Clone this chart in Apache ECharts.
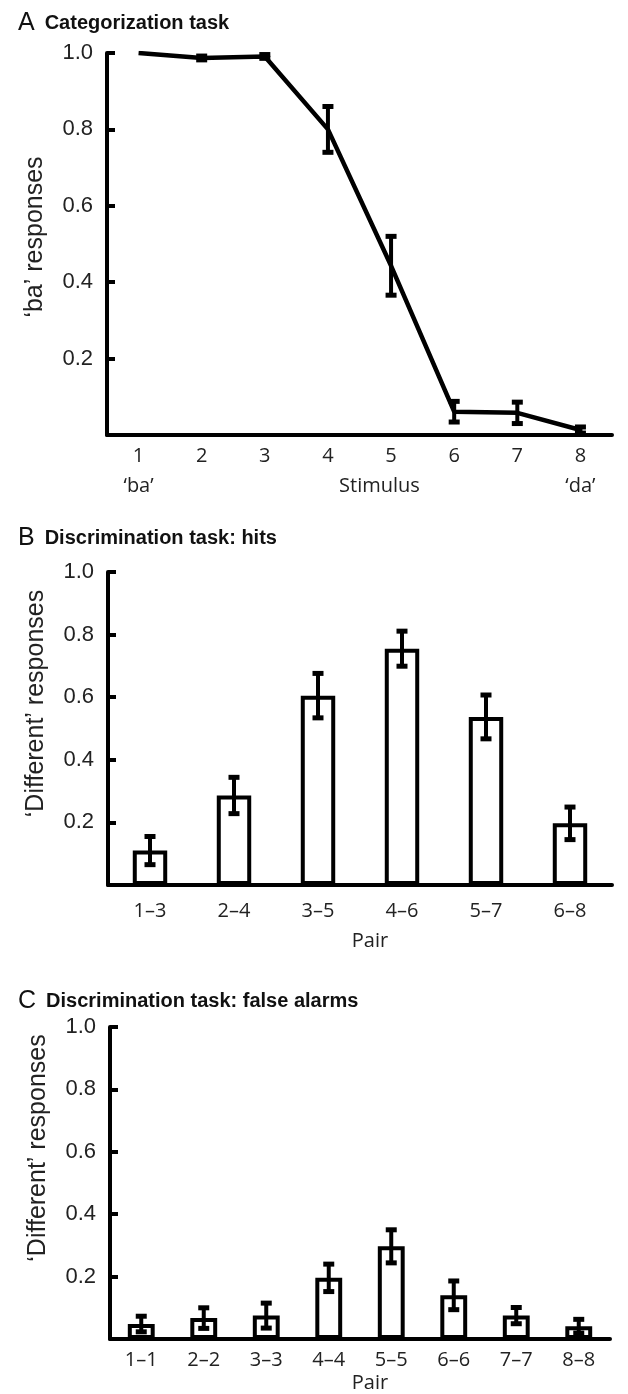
<!DOCTYPE html>
<html>
<head>
<meta charset="utf-8">
<script src="https://cdn.jsdelivr.net/npm/echarts@6/dist/echarts.min.js"></script>
<style>
  html, body { margin: 0; padding: 0; background: #fff; }
  #chart { width: 628px; height: 1394px; }
</style>
</head>
<body>
<div id="chart"></div>
<script>
// ---- Data ----
const stimuli = ['1', '2', '3', '4', '5', '6', '7', '8'];
const stimulusEndLabels = ['\u2018ba\u2019', '', '', '', '', '', '', '\u2018da\u2019'];
const baResponses = [1.0, 0.987, 0.991, 0.80, 0.443, 0.061, 0.058, 0.013];
const baErrors = [0, 0.005, 0.005, 0.06, 0.077, 0.027, 0.028, 0.008];

const hitPairs = ['1\u20133', '2\u20134', '3\u20135', '4\u20136', '5\u20137', '6\u20138'];
const hitValues = [0.11, 0.286, 0.605, 0.755, 0.537, 0.197];
const hitErrors = [0.045, 0.058, 0.071, 0.056, 0.07, 0.052];

const faPairs = ['1\u20131', '2\u20132', '3\u20133', '4\u20134', '5\u20135', '6\u20136', '7\u20137', '8\u20138'];
const faValues = [0.048, 0.067, 0.075, 0.196, 0.297, 0.140, 0.075, 0.041];
const faErrors = [0.025, 0.033, 0.040, 0.044, 0.053, 0.046, 0.026, 0.022];

// ---- Helpers ----
function errData(vals, errs) {
  return vals.map((v, i) => [i, v - errs[i], v + errs[i]]);
}
function errRenderer(capHalf) {
  return function (params, api) {
    const x = api.value(0);
    const lo = api.coord([x, api.value(1)]);
    const hi = api.coord([x, api.value(2)]);
    if (Math.abs(hi[1] - lo[1]) < 0.5) return null;
    const st = { stroke: '#000', lineWidth: 4, fill: null };
    const cs = { stroke: '#000', lineWidth: 5, fill: null };
    return {
      type: 'group',
      children: [
        { type: 'line', shape: { x1: lo[0], y1: lo[1], x2: hi[0], y2: hi[1] }, style: st },
        { type: 'line', shape: { x1: lo[0] - capHalf, y1: lo[1], x2: lo[0] + capHalf, y2: lo[1] }, style: cs },
        { type: 'line', shape: { x1: hi[0] - capHalf, y1: hi[1], x2: hi[0] + capHalf, y2: hi[1] }, style: cs }
      ]
    };
  };
}

const yFont = 'Liberation Sans, Arial, sans-serif';
const xFont = 'Open Sans, Liberation Sans, sans-serif';

function yAxis(gridIndex, name, namePad) {
  return {
    type: 'value', gridIndex: gridIndex,
    min: 0, max: 1.0, interval: 0.2,
    name: name, nameLocation: 'middle', nameGap: 59,
    nameTextStyle: { fontFamily: yFont, fontSize: 25, color: '#222', padding: [0, 0, 0, namePad] },
    axisLine: { show: true, lineStyle: { color: '#000', width: 4 } },
    axisTick: { show: true, inside: true, length: 8, lineStyle: { color: '#000', width: 4 } },
    axisLabel: {
      fontFamily: yFont, fontSize: 22, color: '#222', margin: 14,
      formatter: v => (Math.abs(v) < 1e-9 ? '' : v.toFixed(1))
    },
    splitLine: { show: false }
  };
}

const chart = echarts.init(document.getElementById('chart'), null, { renderer: 'canvas' });

const titleRich = {
  l: { fontFamily: 'Liberation Sans Narrow, Liberation Sans, sans-serif', fontSize: 25, fontWeight: 'normal', color: '#111', padding: [0, 10, 0, 0] },
  b: { fontFamily: 'Liberation Sans, Arial, sans-serif', fontSize: 20, fontWeight: 'bold', color: '#111' }
};

const option = {
  backgroundColor: '#fff',
  animation: false,
  title: [
    { text: '{l|A}{b|Categorization task}', left: 13, top: 6, textStyle: { rich: titleRich } },
    { text: '{l|B}{b|Discrimination task: hits}', left: 13, top: 521, textStyle: { rich: titleRich } },
    { text: '{l|C}{b|Discrimination task: false alarms}', left: 13, top: 984, textStyle: { rich: titleRich } }
  ],
  grid: [
    { left: 107, right: 16, top: 53, height: 382 },
    { left: 108, right: 16, top: 572, height: 313 },
    { left: 110, right: 18, top: 1027, height: 313 }
  ],
  xAxis: [
    {
      type: 'category', gridIndex: 0, data: stimuli, boundaryGap: true,
      name: 'Stimulus', nameLocation: 'middle', nameGap: 41, nameMoveOverlap: false,
      nameTextStyle: { fontFamily: xFont, fontSize: 20, color: '#222', padding: [0, 0, 0, 40] },
      axisLine: { show: true, lineStyle: { color: '#000', width: 4 } },
      axisTick: { show: false },
      axisLabel: {
        fontFamily: xFont, fontSize: 20, color: '#222', margin: 6, lineHeight: 30,
        formatter: (v, i) => stimulusEndLabels[i] ? v + '\n' + stimulusEndLabels[i] : v
      }
    },
    {
      type: 'category', gridIndex: 1, data: hitPairs, boundaryGap: true,
      name: 'Pair', nameLocation: 'middle', nameGap: 46,
      nameTextStyle: { fontFamily: xFont, fontSize: 20, color: '#222', padding: [0, 0, 0, 20] },
      axisLine: { show: true, lineStyle: { color: '#000', width: 4 } },
      axisTick: { show: false },
      axisLabel: { fontFamily: xFont, fontSize: 20, color: '#222', margin: 16 }
    },
    {
      type: 'category', gridIndex: 2, data: faPairs, boundaryGap: true,
      name: 'Pair', nameLocation: 'middle', nameGap: 34,
      nameTextStyle: { fontFamily: xFont, fontSize: 20, color: '#222', padding: [0, 0, 0, 20] },
      axisLine: { show: true, lineStyle: { color: '#000', width: 4 } },
      axisTick: { show: false },
      axisLabel: { fontFamily: xFont, fontSize: 20, color: '#222', margin: 11 }
    }
  ],
  yAxis: [
    yAxis(0, '\u2018ba\u2019 responses', 14),
    yAxis(1, '\u2018Different\u2019 responses', 50),
    yAxis(2, '\u2018Different\u2019 responses', 70)
  ],
  series: [
    {
      type: 'line', xAxisIndex: 0, yAxisIndex: 0, data: baResponses,
      symbol: 'none', lineStyle: { color: '#000', width: 4.5 }, z: 3
    },
    {
      type: 'custom', xAxisIndex: 0, yAxisIndex: 0, data: errData(baResponses, baErrors),
      renderItem: errRenderer(5.5), z: 4
    },
    {
      type: 'bar', xAxisIndex: 1, yAxisIndex: 1, data: hitValues, barWidth: '41%',
      itemStyle: { color: '#fff', borderColor: '#000', borderWidth: 4 }, z: 2
    },
    {
      type: 'custom', xAxisIndex: 1, yAxisIndex: 1, data: errData(hitValues, hitErrors),
      renderItem: errRenderer(5.5), z: 4
    },
    {
      type: 'bar', xAxisIndex: 2, yAxisIndex: 2, data: faValues, barWidth: '43%',
      itemStyle: { color: '#fff', borderColor: '#000', borderWidth: 4 }, z: 2
    },
    {
      type: 'custom', xAxisIndex: 2, yAxisIndex: 2, data: errData(faValues, faErrors),
      renderItem: errRenderer(5.5), z: 4
    }
  ]
};
chart.setOption(option);
</script>
</body>
</html>
